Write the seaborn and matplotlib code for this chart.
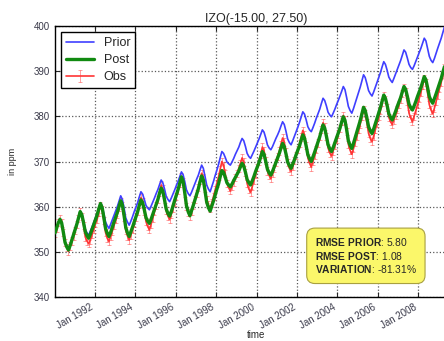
import numpy as np
import pandas as pd
import matplotlib
matplotlib.use("Agg")
import matplotlib.pyplot as plt
import matplotlib.dates as mdates
import seaborn as sns

# Monthly CO2 at IZO, Jan 1990 - Dec 2009 (ppm), one row per year
prior_ppm = [
    354.3, 355.4, 356.5, 357.3, 356.5, 354.5, 352.3, 351.3, 350.6, 351.6, 352.8, 354.0,
    355.1, 356.3, 357.7, 359.0, 358.4, 356.8, 355.0, 354.2, 353.7, 354.6, 355.5, 356.5,
    357.5, 358.5, 359.7, 360.8, 360.1, 358.4, 356.6, 355.8, 355.2, 356.1, 357.1, 358.1,
    359.1, 360.1, 361.2, 362.4, 361.6, 359.7, 357.5, 356.6, 355.9, 356.8, 357.8, 358.9,
    359.9, 360.9, 362.1, 363.3, 362.8, 361.6, 360.3, 359.7, 359.3, 360.1, 361.0, 361.9,
    362.9, 363.8, 364.8, 365.9, 365.3, 363.9, 362.3, 361.6, 361.1, 361.9, 362.8, 363.7,
    364.7, 365.6, 366.6, 367.7, 367.1, 365.5, 363.7, 362.9, 362.4, 363.2, 364.2, 365.1,
    366.1, 367.0, 368.1, 369.2, 368.5, 366.7, 364.8, 363.9, 363.3, 364.4, 365.6, 366.9,
    368.1, 369.4, 370.8, 372.2, 371.8, 370.9, 369.9, 369.5, 369.2, 369.9, 370.7, 371.6,
    372.4, 373.2, 374.2, 375.1, 374.6, 373.3, 371.8, 371.1, 370.7, 371.5, 372.3, 373.2,
    374.1, 375.0, 376.0, 377.0, 376.5, 375.2, 373.7, 373.0, 372.6, 373.3, 374.2, 375.1,
    375.9, 376.8, 377.8, 378.8, 378.2, 376.7, 375.0, 374.2, 373.7, 374.6, 375.6, 376.6,
    377.6, 378.7, 379.8, 381.0, 380.5, 379.2, 377.7, 377.0, 376.6, 377.5, 378.5, 379.6,
    380.6, 381.6, 382.8, 384.0, 383.5, 382.3, 380.9, 380.3, 379.9, 380.7, 381.6, 382.6,
    383.5, 384.5, 385.5, 386.6, 385.9, 384.1, 382.2, 381.3, 380.7, 381.7, 382.9, 384.1,
    385.3, 386.5, 387.8, 389.2, 388.6, 387.2, 385.7, 385.0, 384.5, 385.4, 386.5, 387.5,
    388.6, 389.7, 390.9, 392.1, 391.5, 390.2, 388.7, 388.0, 387.5, 388.4, 389.4, 390.4,
    391.4, 392.4, 393.5, 394.7, 394.2, 392.9, 391.5, 390.8, 390.4, 391.2, 392.2, 393.2,
    394.1, 395.1, 396.2, 397.3, 396.7, 395.0, 393.3, 392.4, 391.9, 392.8, 394.0, 395.1,
    396.2, 397.3, 398.5, 399.8, 399.2, 397.7, 396.2, 395.4, 395.0, 395.9, 397.0, 398.2,
]

post_ppm = [
    354.2, 355.3, 356.4, 357.2, 356.4, 354.3, 352.1, 351.1, 350.4, 351.4, 352.6, 353.8,
    355.0, 356.2, 357.5, 358.9, 358.2, 356.4, 354.5, 353.6, 353.0, 353.9, 355.0, 356.1,
    357.2, 358.2, 359.5, 360.7, 359.8, 357.6, 355.2, 354.1, 353.4, 354.3, 355.5, 356.6,
    357.7, 358.8, 360.0, 361.3, 360.4, 358.0, 355.4, 354.2, 353.4, 354.4, 355.5, 356.6,
    357.8, 358.9, 360.2, 361.5, 360.9, 359.3, 357.6, 356.8, 356.3, 357.2, 358.3, 359.4,
    360.5, 361.6, 362.9, 364.1, 363.4, 361.5, 359.5, 358.5, 357.9, 358.9, 360.2, 361.4,
    362.6, 363.8, 365.2, 366.6, 365.6, 363.0, 360.2, 358.9, 358.0, 359.1, 360.3, 361.5,
    362.8, 364.0, 365.4, 366.8, 365.9, 363.5, 361.0, 359.8, 359.0, 360.1, 361.3, 362.6,
    363.9, 365.1, 366.6, 368.0, 367.6, 366.5, 365.3, 364.8, 364.4, 365.0, 365.8, 366.5,
    367.2, 367.9, 368.8, 369.6, 369.0, 367.6, 366.0, 365.3, 364.8, 365.7, 366.7, 367.8,
    368.8, 369.8, 371.0, 372.2, 371.6, 370.0, 368.3, 367.5, 367.0, 367.8, 368.8, 369.8,
    370.8, 371.8, 372.9, 374.0, 373.3, 371.7, 369.9, 369.1, 368.5, 369.4, 370.4, 371.5,
    372.5, 373.5, 374.7, 375.9, 375.2, 373.4, 371.5, 370.6, 370.0, 371.0, 372.1, 373.2,
    374.4, 375.5, 376.8, 378.1, 377.4, 375.6, 373.7, 372.8, 372.2, 373.1, 374.2, 375.3,
    376.4, 377.4, 378.7, 379.9, 379.1, 377.0, 374.6, 373.6, 372.9, 374.0, 375.3, 376.5,
    377.8, 379.1, 380.5, 382.0, 381.3, 379.6, 377.7, 376.8, 376.2, 377.2, 378.4, 379.6,
    380.8, 382.0, 383.3, 384.7, 384.0, 382.4, 380.6, 379.8, 379.2, 380.1, 381.1, 382.2,
    383.2, 384.2, 385.4, 386.6, 386.0, 384.4, 382.7, 381.9, 381.4, 382.3, 383.3, 384.4,
    385.4, 386.4, 387.6, 388.8, 388.1, 386.3, 384.4, 383.5, 382.9, 383.9, 385.0, 386.1,
    387.3, 388.4, 389.7, 391.0, 390.3, 388.5, 386.5, 385.6, 385.0, 386.0, 387.1, 388.2,
]

obs_ppm = [
    354.0, 355.2, 356.5, 357.4, 356.4, 354.2, 352.0, 350.9, 350.2, 351.3, 352.4, 353.5,
    354.8, 356.0, 357.4, 358.8, 357.9, 355.9, 353.3, 352.4, 351.8, 352.6, 353.8, 355.0,
    356.2, 357.2, 358.8, 360.2, 359.3, 356.9, 354.3, 353.0, 352.3, 353.4, 354.6, 355.8,
    357.1, 358.4, 359.8, 361.2, 360.2, 357.6, 354.8, 353.5, 352.6, 353.7, 355.0, 356.4,
    357.7, 359.0, 360.5, 362.0, 361.1, 359.0, 356.7, 355.6, 354.9, 356.1, 357.5, 358.9,
    360.2, 361.6, 363.2, 364.8, 363.9, 361.6, 359.1, 357.9, 357.2, 358.3, 359.6, 361.0,
    362.3, 363.6, 365.1, 366.6, 365.5, 362.9, 360.0, 358.7, 357.8, 359.0, 360.3, 361.6,
    363.0, 364.3, 365.9, 367.4, 366.5, 364.1, 361.6, 360.4, 359.6, 360.8, 362.3, 363.8,
    365.2, 366.7, 368.3, 370.0, 369.2, 367.3, 365.1, 364.2, 363.5, 364.4, 365.4, 366.4,
    367.4, 368.5, 369.6, 370.8, 369.9, 367.6, 365.1, 363.9, 363.2, 364.4, 365.8, 367.2,
    368.6, 370.0, 371.6, 373.2, 372.4, 370.3, 367.9, 366.9, 366.2, 367.3, 368.5, 369.8,
    371.1, 372.3, 373.8, 375.2, 374.3, 372.1, 369.7, 368.5, 367.8, 368.9, 370.2, 371.4,
    372.7, 374.0, 375.4, 376.9, 375.9, 373.5, 370.8, 369.6, 368.8, 370.0, 371.3, 372.7,
    374.1, 375.5, 377.0, 378.6, 377.7, 375.5, 373.0, 371.9, 371.2, 372.3, 373.5, 374.8,
    376.1, 377.3, 378.8, 380.2, 379.2, 376.6, 373.8, 372.5, 371.6, 372.8, 374.2, 375.6,
    377.0, 378.3, 379.9, 381.5, 380.6, 378.5, 376.2, 375.1, 374.4, 375.6, 377.1, 378.5,
    379.9, 381.3, 383.0, 384.6, 383.8, 381.9, 379.8, 378.8, 378.2, 379.2, 380.3, 381.5,
    382.6, 383.8, 385.1, 386.4, 385.5, 383.2, 380.7, 379.6, 378.8, 380.0, 381.3, 382.6,
    384.0, 385.3, 386.9, 388.4, 387.5, 385.1, 382.6, 381.4, 380.6, 381.8, 383.3, 384.7,
    386.1, 387.5, 389.2, 390.8, 389.9, 387.6, 385.1, 384.0, 383.5, 384.7, 386.1, 387.5,
]
obs_err = 0.8

station_title = "IZO(-15.00, 27.50)"
stats_text = ["RMSE PRIOR", "RMSE POST", "VARIATION"]
stats_vals = ["5.80", "1.08", "-81.31%"]

# mid-month time axis
months = pd.date_range("1990-01-01", periods=len(post_ppm), freq="MS") + pd.Timedelta(days=14)
df = pd.DataFrame({"time": months, "prior": prior_ppm, "post": post_ppm, "obs": obs_ppm})

sns.set_style("ticks")
plt.rcParams["font.family"] = ["Liberation Sans", "DejaVu Sans"]
plt.rcParams["mathtext.fontset"] = "custom"
plt.rcParams["mathtext.rm"] = "Liberation Sans"
plt.rcParams["mathtext.bf"] = "Liberation Sans:bold"

fig = plt.figure(figsize=(4.44, 3.41), dpi=100)
ax = fig.add_axes([55 / 444, 44 / 341, 403 / 444, 271 / 341])

blue = "#3f3fff"
green = "#118a11"
red = "#ff3535"

sns.lineplot(data=df, x="time", y="prior", ax=ax, color=blue, lw=1.2, zorder=3)
sns.lineplot(data=df, x="time", y="post", ax=ax, color=green, lw=2.4, zorder=4)
eb = ax.errorbar(df["time"], df["obs"], yerr=obs_err, color=red, lw=1.2,
                 elinewidth=0.6, capsize=1.2, capthick=0.6, zorder=2)
for art in eb.lines[1] + eb.lines[2]:
    art.set_alpha(0.55)

ax.set_xlim(months[0], months[-1])
ax.set_ylim(340, 400)
ax.set_yticks(np.arange(340, 401, 10))
ax.xaxis.set_major_locator(mdates.YearLocator(2))
ax.xaxis.set_major_formatter(mdates.DateFormatter("%b %Y"))
ax.tick_params(axis="both", direction="in", labelsize=7, labelcolor="#3a3a4a",
               top=True, right=True, length=3.5, width=0.8)
for lab in ax.get_xticklabels():
    lab.set_rotation(30)
    lab.set_ha("right")
ax.grid(True, linestyle=":", color="0.35", lw=0.9)
for s in ax.spines.values():
    s.set_linewidth(1.0)
    s.set_color("black")

ax.set_title(station_title, fontsize=9, pad=3)
ax.set_ylabel("in ppm", fontsize=6.5, labelpad=12)
ax.set_xlabel("time", fontsize=7)
ax.xaxis.label.set_va("bottom")
ax.xaxis.set_label_coords(0.5, -0.158)

prior_h = plt.Line2D([], [], color=blue, lw=1.2)
post_h = plt.Line2D([], [], color=green, lw=2.4)
ax.legend([prior_h, post_h, eb], ["Prior", "Post", "Obs"], loc="upper left",
          fontsize=9, frameon=True, fancybox=False, edgecolor="black",
          framealpha=1.0, handlelength=2.2, labelspacing=0.4,
          borderaxespad=0.5, borderpad=0.4)

lines = [r"$\bf{" + k.replace(" ", r"\ ") + "}$: " + v for k, v in zip(stats_text, stats_vals)]
ax.text(0.645, 0.152, "\n".join(lines), transform=ax.transAxes, fontsize=7.4,
        ha="left", va="center", linespacing=1.15, zorder=6,
        bbox=dict(boxstyle="round,pad=0.8", fc="#fbf76a", ec="#a8a040", lw=0.8))

fig.savefig("out.png", dpi=100)
